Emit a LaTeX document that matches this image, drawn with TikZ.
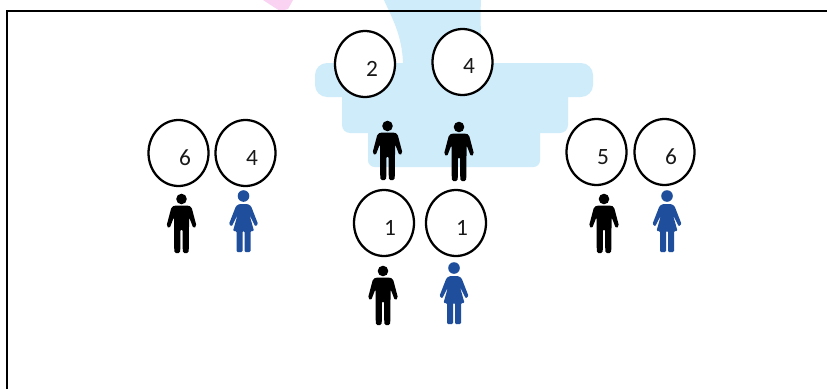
\documentclass[tikz,border=0pt]{standalone}
\usepackage{fontspec}
\setmainfont{Carlito}
\usetikzlibrary{shapes.geometric}
\definecolor{womanblue}{HTML}{1F4E9C}
\definecolor{basin}{HTML}{CFECFB}
\definecolor{pinkbit}{HTML}{F9D3F1}
\tikzset{
  x=0.75pt,y=-0.75pt,
  bubble/.style={draw=black,line width=1.7pt,ellipse,fill=white,minimum width=45pt,minimum height=49.5pt,inner sep=0pt},
  digit/.style={font=\fontsize{17.5}{20}\selectfont,inner sep=0pt,text=black!90},
  man/.pic={
    \fill[black] (0,0) circle[radius=5.3];
    \fill[black,rounded corners=1.2pt] (-7,6.5) -- (7,6.5) -- (10,8) -- (15,27) -- (12,29.5) -- (7.5,18) -- (7.5,29) -- (7.2,54) -- (1.3,54) -- (1,30) -- (-1,30) -- (-1.3,54) -- (-7.2,54) -- (-7.5,29) -- (-7.5,18) -- (-12,29.5) -- (-15,27) -- (-10,8) -- cycle;
  },
  woman/.pic={
    \fill[womanblue] (0,0) circle[radius=5.8];
    \fill[womanblue,rounded corners=0.8pt] (-4,8) -- (4,8) -- (7.5,10) -- (14.5,28) -- (11.8,30.5) -- (6,19) -- (10.5,35) -- (7,35) -- (7,56) -- (1,56) -- (1,35) -- (-1,35) -- (-1,56) -- (-7,56) -- (-7,35) -- (-10.5,35) -- (-6,19) -- (-11.8,30.5) -- (-14.5,28) -- (-7.5,10) -- cycle;
  }
}
\begin{document}
\begin{tikzpicture}
\useasboundingbox (0,0) rectangle (827,389);
\fill[white] (0,0) rectangle (827,389);
% washed-out background picture
\fill[pinkbit] (263,0) -- (293,0) -- (288,9) -- (280,11) -- cycle;
\fill[basin] (384,0) .. controls (392,18) and (402,35) .. (403,63) -- (483,63) .. controls (481,40) and (480,20) .. (481,0) -- cycle;
\fill[basin,rounded corners=9pt] (315,63) rectangle (593,97);
\fill[basin,rounded corners=6pt] (342,85) rectangle (568,133);
\fill[basin,rounded corners=5pt] (368,120) rectangle (540,167);
% frame
\draw[line width=2.2pt,black] (7,389) -- (7,11) -- (827,11);
% bubbles
\node[bubble] (b1) at (365,64) {};
\node[bubble] (b2) at (462.5,62) {};
\node[bubble] (b3) at (178.5,153) {};
\node[bubble] (b4) at (245.5,153) {};
\node[bubble] (b5) at (596.5,152) {};
\node[bubble] (b6) at (664.5,152) {};
\node[bubble] (b7) at (384,223) {};
\node[bubble] (b8) at (456,223) {};
% digits
\node[digit] (d1) at (372,69) {2};
\node[digit] (d2) at (469,66) {4};
\node[digit] (d3) at (185,158) {6};
\node[digit] (d4) at (252,158) {4};
\node[digit] (d5) at (603,157) {5};
\node[digit] (d6) at (671,157) {6};
\node[digit] (d7) at (390,228) {1};
\node[digit] (d8) at (462,228) {1};
% people
\pic at (387.5,126) {man};
\pic at (459,127) {man};
\pic at (181.5,199) {man};
\pic at (604,199) {man};
\pic at (383,271) {man};
\pic at (243.5,196) {woman};
\pic at (667,196) {woman};
\pic at (454,268) {woman};
\end{tikzpicture}
\end{document}
